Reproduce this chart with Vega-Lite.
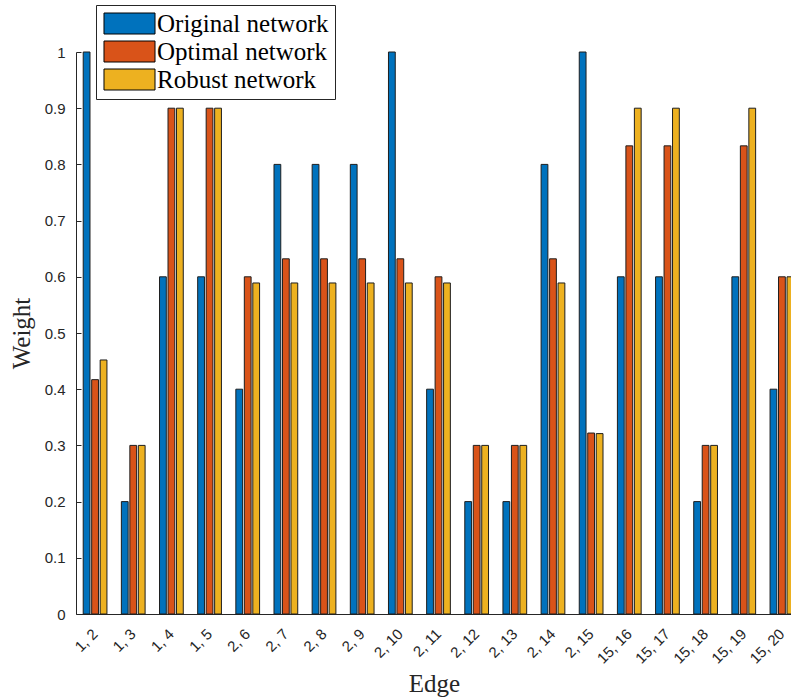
{
  "$schema": "https://vega.github.io/schema/vega-lite/v6.json",
  "autosize": {"type": "none"},
  "padding": {"left": 76, "top": 52, "right": 0, "bottom": 84},
  "width": 725,
  "height": 562,
  "background": "white",
  "config": {"view": {"stroke": null}, "font": "Liberation Sans"},
  "data": {
    "values": [
      {"edge": "1, 2", "network": "Original network", "weight": 1.0},
      {"edge": "1, 2", "network": "Optimal network", "weight": 0.417},
      {"edge": "1, 2", "network": "Robust network", "weight": 0.452},
      {"edge": "1, 3", "network": "Original network", "weight": 0.2},
      {"edge": "1, 3", "network": "Optimal network", "weight": 0.3},
      {"edge": "1, 3", "network": "Robust network", "weight": 0.3},
      {"edge": "1, 4", "network": "Original network", "weight": 0.6},
      {"edge": "1, 4", "network": "Optimal network", "weight": 0.9},
      {"edge": "1, 4", "network": "Robust network", "weight": 0.9},
      {"edge": "1, 5", "network": "Original network", "weight": 0.6},
      {"edge": "1, 5", "network": "Optimal network", "weight": 0.9},
      {"edge": "1, 5", "network": "Robust network", "weight": 0.9},
      {"edge": "2, 6", "network": "Original network", "weight": 0.4},
      {"edge": "2, 6", "network": "Optimal network", "weight": 0.6},
      {"edge": "2, 6", "network": "Robust network", "weight": 0.589},
      {"edge": "2, 7", "network": "Original network", "weight": 0.8},
      {"edge": "2, 7", "network": "Optimal network", "weight": 0.632},
      {"edge": "2, 7", "network": "Robust network", "weight": 0.589},
      {"edge": "2, 8", "network": "Original network", "weight": 0.8},
      {"edge": "2, 8", "network": "Optimal network", "weight": 0.632},
      {"edge": "2, 8", "network": "Robust network", "weight": 0.589},
      {"edge": "2, 9", "network": "Original network", "weight": 0.8},
      {"edge": "2, 9", "network": "Optimal network", "weight": 0.632},
      {"edge": "2, 9", "network": "Robust network", "weight": 0.589},
      {"edge": "2, 10", "network": "Original network", "weight": 1.0},
      {"edge": "2, 10", "network": "Optimal network", "weight": 0.632},
      {"edge": "2, 10", "network": "Robust network", "weight": 0.589},
      {"edge": "2, 11", "network": "Original network", "weight": 0.4},
      {"edge": "2, 11", "network": "Optimal network", "weight": 0.6},
      {"edge": "2, 11", "network": "Robust network", "weight": 0.589},
      {"edge": "2, 12", "network": "Original network", "weight": 0.2},
      {"edge": "2, 12", "network": "Optimal network", "weight": 0.3},
      {"edge": "2, 12", "network": "Robust network", "weight": 0.3},
      {"edge": "2, 13", "network": "Original network", "weight": 0.2},
      {"edge": "2, 13", "network": "Optimal network", "weight": 0.3},
      {"edge": "2, 13", "network": "Robust network", "weight": 0.3},
      {"edge": "2, 14", "network": "Original network", "weight": 0.8},
      {"edge": "2, 14", "network": "Optimal network", "weight": 0.632},
      {"edge": "2, 14", "network": "Robust network", "weight": 0.589},
      {"edge": "2, 15", "network": "Original network", "weight": 1.0},
      {"edge": "2, 15", "network": "Optimal network", "weight": 0.322},
      {"edge": "2, 15", "network": "Robust network", "weight": 0.321},
      {"edge": "15, 16", "network": "Original network", "weight": 0.6},
      {"edge": "15, 16", "network": "Optimal network", "weight": 0.833},
      {"edge": "15, 16", "network": "Robust network", "weight": 0.9},
      {"edge": "15, 17", "network": "Original network", "weight": 0.6},
      {"edge": "15, 17", "network": "Optimal network", "weight": 0.833},
      {"edge": "15, 17", "network": "Robust network", "weight": 0.9},
      {"edge": "15, 18", "network": "Original network", "weight": 0.2},
      {"edge": "15, 18", "network": "Optimal network", "weight": 0.3},
      {"edge": "15, 18", "network": "Robust network", "weight": 0.3},
      {"edge": "15, 19", "network": "Original network", "weight": 0.6},
      {"edge": "15, 19", "network": "Optimal network", "weight": 0.833},
      {"edge": "15, 19", "network": "Robust network", "weight": 0.9},
      {"edge": "15, 20", "network": "Original network", "weight": 0.4},
      {"edge": "15, 20", "network": "Optimal network", "weight": 0.6},
      {"edge": "15, 20", "network": "Robust network", "weight": 0.6}
    ]
  },
  "mark": {"type": "bar", "stroke": "#1e1e1e", "strokeWidth": 1},
  "encoding": {
    "x": {
      "field": "edge",
      "type": "nominal",
      "sort": null,
      "scale": {"paddingInner": 0, "paddingOuter": 0},
      "axis": {
        "title": "Edge",
        "titleFont": "Liberation Serif",
        "titleFontSize": 25,
        "titleFontWeight": "normal",
        "titleColor": "#262626",
        "titleX": 358,
        "titleY": 77,
        "titleBaseline": "alphabetic",
        "labelAngle": -45,
        "labelAlign": "right",
        "labelBaseline": "middle",
        "labelFont": "Liberation Sans",
        "labelFontSize": 15,
        "labelColor": "#262626",
        "labelDx": 10,
        "labelPadding": 22,
        "tickSize": -5,
        "tickColor": "#262626",
        "domainColor": "#262626",
        "labelOverlap": false
      }
    },
    "xOffset": {
      "field": "network",
      "sort": ["Original network", "Optimal network", "Robust network"],
      "scale": {"paddingInner": 0.2, "paddingOuter": 0.85}
    },
    "y": {
      "field": "weight",
      "type": "quantitative",
      "scale": {"domain": [0, 1], "nice": false},
      "axis": {
        "title": "Weight",
        "titleFont": "Liberation Serif",
        "titleFontSize": 25,
        "titleFontWeight": "normal",
        "titleColor": "#262626",
        "titleX": -55,
        "titleY": 281,
        "titleBaseline": "middle",
        "values": [0, 0.1, 0.2, 0.3, 0.4, 0.5, 0.6, 0.7, 0.8, 0.9, 1],
        "format": "~g",
        "grid": false,
        "labelFont": "Liberation Sans",
        "labelFontSize": 15,
        "labelColor": "#262626",
        "labelPadding": 16,
        "tickSize": -5,
        "tickColor": "#262626",
        "domainColor": "#262626"
      }
    },
    "color": {
      "field": "network",
      "type": "nominal",
      "scale": {
        "domain": ["Original network", "Optimal network", "Robust network"],
        "range": ["#0072BD", "#D95319", "#EDB120"]
      },
      "legend": {
        "orient": "none",
        "legendX": 20,
        "legendY": -47,
        "title": null,
        "direction": "vertical",
        "fillColor": "white",
        "strokeColor": "#262626",
        "padding": 6,
        "symbolType": "M-2.43,-1H2.43V1H-2.43Z",
        "symbolSize": 441,
        "symbolOffset": 15,
        "symbolStrokeColor": "#000000",
        "symbolStrokeWidth": 1,
        "symbolOpacity": 1,
        "labelFont": "Liberation Serif",
        "labelFontSize": 25,
        "labelColor": "#000000",
        "labelOffset": 15,
        "rowPadding": 2,
        "labelLimit": 300
      }
    }
  }
}
